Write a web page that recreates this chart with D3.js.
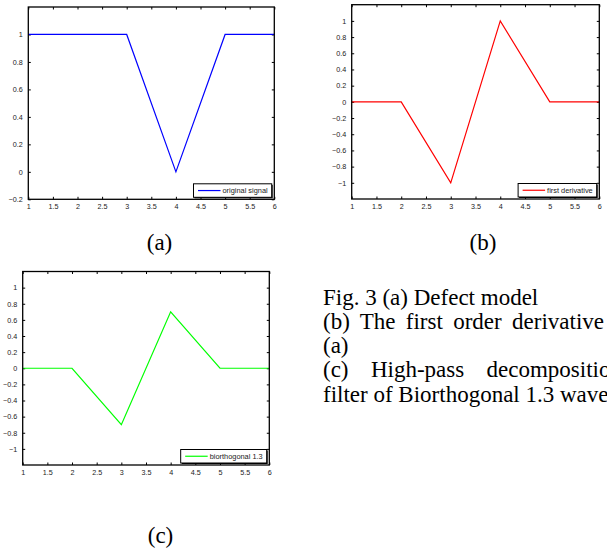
<!DOCTYPE html>
<html>
<head>
<meta charset="utf-8">
<script src="https://cdn.jsdelivr.net/npm/d3@7"></script>
<style>
  html, body { margin: 0; padding: 0; background: #fff; overflow: hidden; }
  #page { position: relative; width: 607px; height: 552px; overflow: hidden; }
  svg { position: absolute; left: 0; top: 0; }
  .note { position: absolute; left: 323px; top: 285.5px; font-family: "Liberation Serif", "Times New Roman", serif;
          font-size: 23px; line-height: 24.3px; color: #000; white-space: nowrap; }
  .note div { white-space: nowrap; }
  .note .just { text-align: justify; text-align-last: justify; white-space: normal; }
</style>
</head>
<body>
<div id="page"></div>
<script>
// signal data
const xA = [1, 3, 4, 5, 6],
  yA = [1, 1, 0, 1, 1];
const xB = [1, 2, 3, 4, 5, 6],
  yB = [0, 0, -1, 1, 0, 0];
const xC = [1, 2, 3, 4, 5, 6],
  yC = [0, 0, -0.7, 0.7, 0, 0];

const xTicks = [1, 1.5, 2, 2.5, 3, 3.5, 4, 4.5, 5, 5.5, 6];
const yTicksA = [-0.2, 0, 0.2, 0.4, 0.6, 0.8, 1];
const yTicksB = [-1, -0.8, -0.6, -0.4, -0.2, 0, 0.2, 0.4, 0.6, 0.8, 1];

const legendA = "original signal",
  legendB = "first derivative",
  legendC = "biorthogonal 1.3";

const captions = ["(a)", "(b)", "(c)"];
const noteLines = [
  "Fig. 3 (a) Defect model",
  "(b) The first order derivative",
  "(a)",
  "(c) High-pass decomposition",
  "filter of Biorthogonal 1.3 wavelet"
];

const panels = [
  { xs: xA, ys: yA, yDomain: [-0.2, 1.2], yTicks: yTicksA, color: "#0000ff", label: legendA,
    left: 28.3, right: 274.3, top: 7, bottom: 199.3 },
  { xs: xB, ys: yB, yDomain: [-1.2, 1.2], yTicks: yTicksB, color: "#ff0000", label: legendB,
    left: 351.7, right: 599.3, top: 4.7, bottom: 199 },
  { xs: xC, ys: yC, yDomain: [-1.2, 1.2], yTicks: yTicksB, color: "#00ff00", label: legendC,
    left: 22.7, right: 269.3, top: 271.5, bottom: 465 }
];

const page = d3.select("#page");
const svg = page.append("svg").attr("width", 607).attr("height", 552);

const tickLen = 2.5,
  tickFont = "Liberation Sans, Arial, sans-serif";

panels.forEach(p => {
  const x = d3.scaleLinear().domain([1, 6]).range([p.left, p.right]);
  const y = d3.scaleLinear().domain(p.yDomain).range([p.bottom, p.top]);
  const g = svg.append("g");

  // bottom & top axes, ticks pointing inward
  const xb = g.append("g").attr("transform", "translate(0," + p.bottom + ")")
    .call(d3.axisBottom(x).tickValues(xTicks).tickSizeInner(-tickLen).tickSizeOuter(0).tickPadding(4.5)
      .tickFormat(d3.format("")));
  const xt = g.append("g").attr("transform", "translate(0," + p.top + ")")
    .call(d3.axisTop(x).tickValues(xTicks).tickSizeInner(-tickLen).tickSizeOuter(0).tickFormat(""));
  const yl = g.append("g").attr("transform", "translate(" + p.left + ",0)")
    .call(d3.axisLeft(y).tickValues(p.yTicks).tickSizeInner(-tickLen).tickSizeOuter(0).tickPadding(5.5)
      .tickFormat(d3.format("")));
  const yr = g.append("g").attr("transform", "translate(" + p.right + ",0)")
    .call(d3.axisRight(y).tickValues(p.yTicks).tickSizeInner(-tickLen).tickSizeOuter(0).tickFormat(""));

  [xb, xt, yl, yr].forEach(a => {
    a.select(".domain").remove();
    a.selectAll("line").attr("stroke", "#000").attr("stroke-width", 1);
    a.selectAll("text").attr("font-family", tickFont).attr("font-size", 7.2).attr("fill", "#1a1a1a");
  });

  // signal line
  const pts = p.xs.map((d, i) => [d, p.ys[i]]);
  g.append("path")
    .datum(pts)
    .attr("fill", "none")
    .attr("stroke", p.color)
    .attr("stroke-width", 1.2)
    .attr("d", d3.line().x(d => x(d[0])).y(d => y(d[1])));

  // box
  g.append("rect")
    .attr("x", p.left).attr("y", p.top)
    .attr("width", p.right - p.left).attr("height", p.bottom - p.top)
    .attr("fill", "none").attr("stroke", "#000").attr("stroke-width", 1.3);

  // legend in lower right corner
  const lg = g.append("g");
  const txt = lg.append("text")
    .attr("font-family", tickFont).attr("font-size", 7.4).attr("fill", "#1a1a1a")
    .text(p.label);
  const tw = txt.node().getComputedTextLength();
  const bw = tw + 33, bh = 13.5;
  const bx = p.right - 2.6 - bw, by = p.bottom - 2 - bh;
  lg.insert("rect", "text")
    .attr("x", bx + 1).attr("y", by + 1).attr("width", bw).attr("height", bh)
    .attr("fill", "#000");
  lg.insert("rect", "text")
    .attr("x", bx).attr("y", by).attr("width", bw).attr("height", bh)
    .attr("fill", "#fff").attr("stroke", "#000").attr("stroke-width", 1);
  lg.append("line")
    .attr("x1", bx + 4.5).attr("x2", bx + 27).attr("y1", by + bh / 2).attr("y2", by + bh / 2)
    .attr("stroke", p.color).attr("stroke-width", 1.2);
  txt.attr("x", bx + 29).attr("y", by + bh / 2 + 2.6);
});

// sub-figure captions
const capPos = [[159.5, 250], [483, 250], [160.5, 543]];
svg.selectAll(".cap")
  .data(captions)
  .enter()
  .append("text")
  .attr("class", "cap")
  .attr("x", (d, i) => capPos[i][0])
  .attr("y", (d, i) => capPos[i][1])
  .attr("text-anchor", "middle")
  .attr("font-family", "Liberation Serif, Times New Roman, serif")
  .attr("font-size", 23)
  .text(d => d);

// figure note, justified like the paper column
const note = page.append("div").attr("class", "note");
const justWidth = [null, 281, null, 299, null];
noteLines.forEach((t, i) => {
  const d = note.append("div").text(t);
  if (justWidth[i]) d.attr("class", "just").style("width", justWidth[i] + "px");
});
</script>
</body>
</html>
